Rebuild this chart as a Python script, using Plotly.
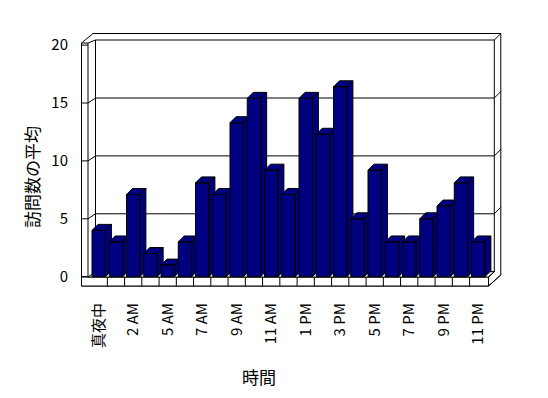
import plotly.graph_objects as go

# ---------------- data ----------------
categories = ["真夜中", "1 AM", "2 AM", "4 AM", "5 AM", "6 AM", "7 AM", "8 AM",
              "9 AM", "10 AM", "11 AM", "正午", "1 PM", "2 PM", "3 PM", "4 PM",
              "5 PM", "6 PM", "7 PM", "8 PM", "9 PM", "10 PM", "11 PM"]
visits = [4.0, 3.0, 7.1, 2.0, 1.0, 3.0, 8.1, 7.1, 13.3, 15.4, 9.2, 7.1,
          15.4, 12.3, 16.4, 5.0, 9.2, 3.0, 3.0, 5.0, 6.1, 8.1, 3.0]
y_ticks = [0, 5, 10, 15, 20]
x_title = "時間"
y_title = "訪問数の平均"

# ---------------- layout geometry (page pixels) ----------------
PAGE_OFF = 8                            # default body margin of the html page
W, H = 548 - PAGE_OFF, 398 - PAGE_OFF
L, R, T, B = 81, 505, 30, 290           # plot area in page pixels
X0, XS = 98.7, 17.25                    # category 0 centre px, px per category
Y0, YS = 276.7, 11.58                   # value 0 px, px per unit

def xd(px):
    return (px - X0) / XS

def yd(py):
    return (Y0 - py) / YS

def ypx(v):
    return Y0 - v * YS

FONT = "Noto Sans CJK JP"
NAVY = "#000080"

# bar geometry
half_w = 6.7 / XS
bdx = 6.0 / XS
bdy = 6.0 / YS

# wall geometry (px)
lw_out, lw_in = 81.5, 88.0       # left wall front face
bw_l, bw_r = 95.5, 494.3         # back wall face
bw_top, bw_bot = 40.0, 271.7
out_top, out_r = 33.5, 500.8
fl_top, fl_bot, fl_r = 277.0, 286.0, 488.5
wall_dx, wall_dy = bw_l - lw_in, 5.0

shapes = []

def line(x1, y1, x2, y2):
    shapes.append(dict(type="line", xref="x", yref="y",
                       x0=xd(x1), y0=yd(y1), x1=xd(x2), y1=yd(y2),
                       line=dict(color="black", width=1), layer="below"))

def poly(pts, fill="white"):
    path = "M " + " L ".join(f"{xd(a)},{yd(b)}" for a, b in pts) + " Z"
    shapes.append(dict(type="path", xref="x", yref="y", path=path,
                       fillcolor=fill, line=dict(color="black", width=1),
                       layer="below"))

# outer silhouette
poly([(lw_out, fl_bot), (lw_out, 43), (93, out_top), (out_r, out_top),
      (out_r, 275), (fl_r, fl_bot)])
# back wall face
poly([(bw_l, bw_top), (bw_r, bw_top), (bw_r, bw_bot), (bw_l, bw_bot)])
# left wall front face
poly([(lw_out, 43), (lw_in, 43), (lw_in, fl_top), (lw_out, fl_top)])
line(lw_in, 43, bw_l, bw_top)
line(bw_r, bw_top, out_r, out_top)
# floor
poly([(lw_out, fl_top), (fl_r, fl_top), (fl_r, fl_bot), (lw_out, fl_bot)])
poly([(lw_in, fl_top), (fl_r, fl_top), (bw_r, bw_bot), (lw_in + wall_dx, bw_bot)])
line(fl_r, fl_top, bw_r, bw_bot)
line(fl_r, fl_bot, out_r, 275)

# category divisions on floor front
for k in range(1, len(categories)):
    xb = X0 + (k - 0.5) * XS
    line(xb, fl_top, xb, fl_bot)

# value ticks / gridlines
for v in y_ticks:
    yf = ypx(v)
    line(lw_out, yf, lw_in, yf)
    if 0 < v < 20:
        yb = yf - wall_dy
        line(lw_in, yf, bw_l, yb)
        line(bw_l, yb, bw_r, yb)
        line(bw_r, yb, out_r, yb - 6.5)

# ---------------- bars (front, top, side faces) ----------------
fig = go.Figure()
for i, v in enumerate(visits):
    c = i
    xl, xr = c - half_w, c + half_w
    front = [(xl, 0), (xr, 0), (xr, v), (xl, v), (xl, 0)]
    top = [(xl, v), (xr, v), (xr + bdx, v + bdy), (xl + bdx, v + bdy), (xl, v)]
    side = [(xr, 0), (xr + bdx, bdy), (xr + bdx, v + bdy), (xr, v), (xr, 0)]
    xs, ys = [], []
    for face in (side, top, front):
        xs += [p[0] for p in face] + [None]
        ys += [p[1] for p in face] + [None]
    fig.add_trace(go.Scatter(
        x=xs, y=ys, mode="lines", fill="toself", fillcolor=NAVY,
        line=dict(color="black", width=1), showlegend=False,
        name=categories[i], hoverinfo="skip"))

tick_idx = list(range(0, len(categories), 2))

fig.update_layout(
    width=W, height=H,
    margin=dict(l=L - PAGE_OFF, r=W + PAGE_OFF - R, t=T - PAGE_OFF,
                b=H + PAGE_OFF - B, pad=0),
    paper_bgcolor="white", plot_bgcolor="white",
    font=dict(family=FONT, color="black", size=14),
    shapes=shapes,
    xaxis=dict(range=[xd(L), xd(R)], showgrid=False, zeroline=False,
               showline=False, tickmode="array", tickvals=tick_idx,
               ticktext=[categories[i] for i in tick_idx], tickangle=-90,
               ticks="", ticklabelstandoff=9, automargin=False,
               tickfont=dict(family=FONT, size=15, color="black")),
    yaxis=dict(range=[yd(B), yd(T)], showgrid=False, zeroline=False,
               showline=False, tickmode="array", tickvals=y_ticks,
               ticks="", ticklabelstandoff=12, automargin=False,
               tickfont=dict(family=FONT, size=15, color="black")),
    annotations=[
        dict(text=x_title, xref="paper", yref="paper",
             x=(259 - L) / (R - L), y=(B - 376.7) / (B - T),
             xanchor="center", yanchor="middle",
             showarrow=False, font=dict(family=FONT, size=17)),
        dict(text=y_title, xref="paper", yref="paper",
             x=(31 - L) / (R - L), y=(B - 177) / (B - T),
             xanchor="center", yanchor="middle",
             showarrow=False, textangle=-90, font=dict(family=FONT, size=17)),
    ],
)

fig.write_html("out.html")
